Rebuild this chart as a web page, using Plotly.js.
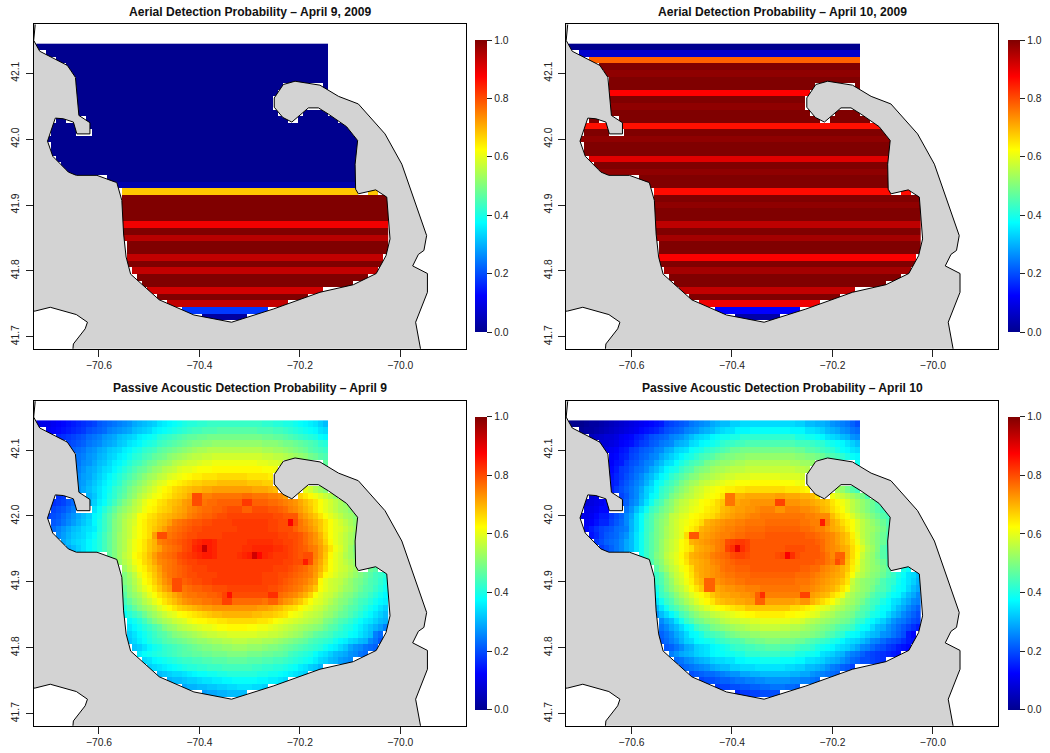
<!DOCTYPE html>
<html><head><meta charset="utf-8">
<script src="https://cdn.plot.ly/plotly-3.0.1.min.js"></script>
<style>html,body{margin:0;padding:0;background:#fff}</style></head>
<body><div id="chart" style="width:1050px;height:753px"></div>
<script>
const panelTitles = ["Aerial Detection Probability \u2013 April 9, 2009","Aerial Detection Probability \u2013 April 10, 2009","Passive Acoustic Detection Probability \u2013 April 9","Passive Acoustic Detection Probability \u2013 April 10"];
const xTicks = [-70.6,-70.4,-70.2,-70.0];
const yTicks = [41.7,41.8,41.9,42.0,42.1];
const barTicks = [0,0.2,0.4,0.6,0.8,1];
const gridLon = [-70.72,-70.71,-70.70,-70.69,-70.68,-70.67,-70.66,-70.65,-70.64,-70.63,-70.62,-70.61,-70.60,-70.59,-70.58,-70.57,-70.56,-70.55,-70.54,-70.53,-70.52,-70.51,-70.50,-70.49,-70.48,-70.47,-70.46,-70.45,-70.44,-70.43,-70.42,-70.41,-70.40,-70.39,-70.38,-70.37,-70.36,-70.35,-70.34,-70.33,-70.32,-70.31,-70.30,-70.29,-70.28,-70.27,-70.26,-70.25,-70.24,-70.23,-70.22,-70.21,-70.20,-70.19,-70.18,-70.17,-70.16,-70.15,-70.14,-70.13,-70.12,-70.11,-70.10,-70.09,-70.08,-70.07,-70.06,-70.05,-70.04,-70.03];
const gridLat = [42.14,42.13,42.12,42.11,42.10,42.09,42.08,42.07,42.06,42.05,42.04,42.03,42.02,42.01,42.00,41.99,41.98,41.97,41.96,41.95,41.94,41.93,41.92,41.91,41.90,41.89,41.88,41.87,41.86,41.85,41.84,41.83,41.82,41.81,41.80,41.79,41.78,41.77,41.76,41.75,41.74,41.73,41.72];
const rowStart = [0,1,4,5,7,7,7,7,7,8,8,2,2,1,1,1,2,3,4,6,14,15,16,16,16,16,16,16,16,16,17,17,17,18,18,20,21,22,24,26,29,33,36];
const aerialApr9 = [0,0,0,0,0,0,0,0,0,0,0,0,0,0,0,0,0,0,0,0,0,0.03,0.68,1,1,1,1,0.89,1,0.945,1,1,0.935,1,0.935,1,1,0.92,1,0.935,0.18,0.02,0];
const aerialApr10 = [0,0.07,0.78,1,0.985,1,1,0.875,1,0.985,1,1,0.86,1,0.985,1,1,0.905,1,0.985,1,1,0.865,1,0.985,1,1,0.94,1,0.965,1,1,0.88,1,0.965,1,1,0.935,1,0.89,0.125,0.03,0];
const acousticApr9 = [
[9,10,10,11,12,13,14,15,16,17,18,19,21,22,23,24,25,26,27,29,30,31,32,33,35,36,37,38,39,40,41,41,42,42,43,43,43,43,43,43,43,43,43,43,43,42,42,41,41,40,40,39,38,37,36,35,33,31],
[11,11,12,13,14,15,16,17,18,20,21,22,23,25,26,27,28,29,31,32,33,34,36,37,38,39,40,41,42,43,44,44,45,45,45,46,46,46,46,46,46,46,46,45,45,45,44,44,43,42,41,40,39,38,37,35,34],
[16,17,18,19,20,21,23,24,25,27,28,29,31,32,33,34,36,37,38,39,41,42,43,44,45,46,47,47,48,48,49,49,49,49,49,49,49,49,49,49,49,48,48,47,47,46,45,44,43,42,41,40,38,37],
[18,19,20,21,22,24,25,26,28,29,30,32,33,35,36,37,39,40,41,43,44,45,46,47,48,49,50,50,51,51,52,52,52,52,52,52,52,52,52,52,51,51,51,50,49,49,48,47,46,45,44,42,41],
[22,23,24,26,27,29,30,32,33,34,36,37,39,40,42,43,44,46,47,48,49,50,51,52,53,54,54,55,55,55,55,55,55,55,55,55,55,55,54,54,53,53,52,51,50,49,48,46,45,44,43],
[22,24,25,27,28,30,31,33,34,36,37,39,41,42,44,45,47,48,49,51,52,53,54,55,56,56,57,57,58,58,58,58,58,58,58,58,58,58,57,57,56,56,55,54,53,52,51,49,48,46,45],
[23,24,26,27,29,31,32,34,36,37,39,41,43,44,46,48,49,51,52,53,55,56,57,58,58,59,60,60,61,61,61,61,61,61,61,61,61,60,60,59,59,58,57,56,55,54,53,51,50,48,47],
[24,25,27,29,30,32,34,35,37,39,41,43,45,47,48,50,52,53,55,56,57,59,60,60,61,62,62,62,63,63,63,63,63,63,63,63,63,63,62,62,61,60,59,58,57,56,54,53,51,49,48],
[24,26,28,29,31,33,35,37,39,41,43,45,47,49,51,53,54,56,57,59,60,61,62,63,64,64,65,65,65,66,66,66,66,66,66,65,65,65,65,64,64,63,62,61,60,58,57,55,53,51,49],
[27,28,30,32,34,36,38,40,42,45,47,49,51,53,55,57,59,60,62,63,64,65,66,67,67,68,68,68,69,69,69,69,69,69,68,68,68,67,67,66,65,64,63,61,60,58,56,54,52,50],
[27,29,31,33,35,37,39,42,44,46,49,51,53,55,57,59,61,63,64,66,67,68,69,70,70,71,71,72,72,72,72,72,72,72,72,71,71,71,70,69,68,67,66,64,62,60,58,55,53,51],
[15,16,17,18,20,22,25,27,30,32,35,37,40,42,45,47,50,52,55,57,59,61,62,64,65,67,68,69,71,80,80,75,75,76,76,76,76,76,76,77,77,76,76,76,75,75,74,72,70,69,67,65,63,61,59,57,55,52,50],
[16,17,18,19,21,23,25,28,31,33,36,38,41,44,47,50,52,55,57,60,62,63,65,66,68,69,70,72,73,80,80,76,77,77,78,78,78,78,78,82,82,78,78,78,77,77,76,75,74,73,71,69,67,65,62,60,58,56,54,52],
[17,18,19,20,21,23,25,27,30,32,35,38,41,44,47,50,52,54,56,58,61,63,64,66,67,68,70,71,72,74,75,76,77,77,78,78,79,80,80,80,78,78,80,80,80,79,79,78,77,75,74,72,70,68,65,62,60,58,56,54,53,51,50],
[18,19,20,21,23,25,27,29,31,33,37,39,43,46,49,52,54,56,58,62,63,65,66,68,69,70,71,72,73,75,76,77,78,78,79,80,80,81,81,81,81,81,81,81,81,81,80,80,79,79,79,74,72,70,68,65,62,60,58,56,54,53,51],
[19,20,21,22,24,26,28,30,32,34,37,40,43,46,50,52,55,57,59,62,64,66,67,69,70,72,75,76,77,78,79,79,80,80,81,81,81,81,82,82,82,82,82,82,82,81,81,80,80,88,80,76,74,72,70,68,65,62,60,58,56,54,52],
[22,23,25,27,29,31,32,34,35,36,40,43,46,50,52,55,57,60,62,64,66,68,70,72,75,76,77,78,79,80,80,81,81,81,81,81,81,81,82,82,82,82,82,82,81,81,80,80,80,78,76,75,73,71,68,65,62,60,59,57,55,53],
[24,26,28,30,32,33,34,36,38,41,44,47,50,53,55,57,60,62,64,66,72,80,80,76,77,78,79,80,80,81,81,81,81,81,82,82,82,82,82,82,82,82,82,82,82,81,81,80,80,79,77,75,73,70,66,62,60,58,56,54,52],
[27,29,31,33,34,35,37,39,41,44,47,50,53,55,58,61,63,65,68,70,75,76,77,78,79,80,81,83,84,85,85,84,82,82,82,82,82,82,83,83,83,83,83,82,82,81,81,80,79,77,75,73,71,67,63,60,58,56,54,52],
[29,31,33,35,37,39,41,44,47,50,53,55,58,61,63,65,68,70,72,75,76,77,78,80,81,84,85,93,85,84,82,82,82,82,82,83,83,84,84,84,84,83,83,82,81,80,79,78,76,75,72,69,65,61,59,56,53,50],
[47,50,53,56,58,62,64,66,69,72,75,76,77,78,80,81,82,83,84,85,85,84,82,82,82,82,83,84,85,92,87,84,83,82,82,82,81,80,79,80,80,75,72,68,63,60,58,55,53,51],
[49,52,55,57,61,63,66,68,71,74,75,76,77,79,80,81,81,82,82,82,82,82,82,82,82,82,82,82,82,82,82,82,82,82,81,81,80,80,85,80,74,71,67,62,60,58,56,54,52],
[50,53,56,59,62,64,67,69,72,75,76,77,78,79,80,81,81,81,82,82,82,82,82,82,82,82,82,82,82,82,82,81,81,81,80,79,78,77,75,73,70,66,62,60,58,57,55,53,51,50,48,46],
[47,50,53,56,60,63,65,68,71,74,76,77,78,79,80,80,81,81,81,81,82,82,82,82,82,82,82,82,82,81,81,81,80,80,79,78,77,76,75,72,68,63,61,59,57,56,54,52,50,48,46,44,43,41],
[47,50,52,55,58,62,64,67,70,73,75,80,80,78,79,80,80,81,81,82,82,82,82,82,82,82,82,82,82,81,81,81,80,79,78,77,76,75,73,71,63,60,58,57,56,54,52,50,49,47,45,44,42,40],
[45,48,51,54,57,60,62,65,68,71,73,80,80,76,77,78,78,79,79,80,80,80,81,81,81,81,81,81,81,81,80,80,79,78,77,76,75,73,71,68,62,60,58,57,55,53,52,50,48,46,45,43,41,39],
[43,46,50,52,54,57,60,62,65,67,69,71,73,75,76,76,77,77,78,78,79,81,86,80,80,80,80,80,80,80,83,83,77,76,75,74,72,70,67,62,60,58,57,55,53,51,50,48,46,45,43,41,39,37],
[41,44,47,50,52,55,57,60,62,65,67,69,71,73,74,75,75,76,76,77,77,81,81,77,77,77,77,77,77,76,78,78,75,73,72,70,68,65,62,60,59,57,55,53,51,50,48,46,44,43,41,39,37,36],
[39,41,44,47,50,52,54,56,59,61,63,65,67,68,69,70,71,72,72,73,73,73,73,73,73,73,73,73,72,72,71,70,69,67,66,65,63,61,60,58,57,55,53,52,50,48,46,45,43,41,39,37,35,33],
[36,38,41,43,45,48,51,53,55,57,59,60,62,63,64,65,66,67,68,69,69,70,70,70,70,70,70,69,69,68,68,67,66,65,62,61,60,58,57,56,55,53,52,50,48,47,45,43,41,39,37,35,33,31],
[35,37,39,41,44,47,50,52,54,55,57,58,59,61,62,63,63,64,64,65,65,66,66,66,66,66,66,65,65,64,62,61,60,59,58,57,56,55,54,53,50,49,47,45,44,42,40,38,36,35,33,31,30],
[33,35,37,39,41,43,45,47,50,52,53,55,56,57,58,59,60,60,61,62,62,63,63,63,63,62,62,61,61,60,59,58,57,56,55,54,53,52,51,50,48,46,45,43,41,40,38,36,34,32,30,28,25],
[31,33,35,37,39,41,43,45,46,48,50,51,52,53,54,55,56,57,57,58,58,59,59,59,59,59,59,58,58,57,57,56,55,54,53,52,50,49,47,46,45,44,42,41,40,38,37,35,33,31,25,23],
[32,34,36,38,40,42,43,45,46,47,48,49,50,51,52,52,53,54,54,55,55,56,56,56,55,55,55,54,54,53,52,51,50,49,48,47,45,44,43,42,41,39,37,36,34,33,31,30,26,24,21],
[30,32,33,35,37,39,40,42,43,44,45,46,47,48,49,50,50,51,51,52,52,53,53,53,52,52,52,51,50,50,49,48,47,46,45,44,43,42,41,39,37,36,34,32,29,27,26,24,23,22],
[36,38,39,40,41,42,43,44,45,46,46,47,47,48,48,49,49,49,50,50,50,50,49,49,49,48,48,47,47,46,44,43,42,41,40,38,36,35,33,31,30,29,27,26,24,23],
[34,35,37,38,39,40,41,42,43,43,44,44,45,45,46,46,46,47,47,47,47,46,46,46,45,45,44,44,43,42,41,40,39,38,36,34,33,31,30,28,27,26],
[33,34,35,36,37,38,39,40,41,41,42,42,43,43,43,44,44,44,44,44,44,43,43,42,42,41,41,40,39,38,36,35,33,32,30],
[31,32,33,34,34,35,36,37,38,38,39,39,40,40,41,41,41,41,41,41,40,40,39,39,38,37,36,35,34,33],
[30,31,31,32,33,33,34,35,35,36,36,37,37,38,38,38,38,38,37,37,36,36,35,34],
[29,30,30,31,31,32,32,33,33,34,34,35,35,35,34,34,33],
[28,29,29,30,30,31,31,31,31],
[27,28,28]];
const acousticApr10 = [
[0,0,0,1,2,2,3,4,5,6,7,8,9,10,11,12,13,14,15,18,19,20,21,22,24,25,26,27,29,30,31,31,33,33,34,34,34,34,34,34,34,34,34,34,34,33,33,31,31,30,30,29,27,26,25,24,22,20],
[1,1,2,2,3,4,5,6,7,8,9,10,11,13,14,15,16,18,20,21,22,23,25,26,27,29,30,31,33,34,35,35,37,37,37,38,38,38,38,38,38,38,38,37,37,37,35,35,34,33,31,30,29,27,26,24,23],
[5,6,7,8,8,9,11,12,13,15,16,18,20,21,22,23,25,26,27,29,31,33,34,35,37,38,39,39,40,40,42,42,42,42,42,42,42,42,42,42,42,40,40,39,39,38,37,35,34,33,31,30,27,26],
[7,8,8,9,10,12,13,14,16,18,19,21,22,24,25,26,29,30,31,34,35,37,38,39,40,42,43,43,44,44,45,45,45,45,45,45,45,45,45,45,44,44,44,43,42,42,40,39,38,37,35,33,31],
[10,11,12,14,15,18,19,21,22,23,25,26,29,30,33,34,35,38,39,40,42,43,44,45,46,48,48,49,49,49,49,49,49,49,49,49,49,49,48,48,46,46,45,44,43,42,40,38,37,35,34],
[10,12,13,15,16,19,20,22,23,25,26,29,31,33,35,37,39,40,42,44,45,46,48,49,50,50,51,51,52,52,52,52,52,52,52,52,52,52,51,51,50,50,49,48,46,45,44,42,40,38,37],
[11,12,14,15,18,20,21,23,25,26,29,31,34,35,38,40,42,44,45,46,49,50,51,52,52,53,54,54,55,55,55,55,55,55,55,55,55,54,54,53,53,52,51,50,49,48,46,44,43,40,39],
[12,13,15,18,19,21,23,24,26,29,31,34,37,39,40,43,45,46,49,50,51,53,54,54,55,56,56,56,57,57,57,57,57,57,57,57,57,57,56,56,55,54,53,52,51,50,48,46,44,42,40],
[12,14,16,18,20,22,24,26,29,31,34,37,39,42,44,46,48,50,51,53,54,55,56,57,58,58,59,59,59,60,60,60,60,60,60,59,59,59,59,58,58,57,56,55,54,52,51,49,46,44,42],
[15,16,19,21,23,25,27,30,33,37,39,42,44,46,49,51,53,54,56,57,58,59,60,61,61,62,62,62,63,63,63,63,63,63,62,62,62,61,61,60,59,58,57,55,54,52,50,48,45,43],
[15,18,20,22,24,26,29,33,35,38,42,44,46,49,51,53,55,57,58,60,61,62,63,64,64,65,65,66,66,66,66,66,66,66,66,65,65,65,64,63,62,61,60,58,56,54,52,49,46,44],
[6,7,8,9,10,12,13,15,19,21,24,26,30,33,37,39,43,45,49,51,53,55,56,58,59,61,62,63,65,76,76,70,70,71,71,71,71,71,71,72,72,71,71,71,70,70,69,66,64,63,61,59,57,55,53,51,49,45,43],
[7,8,9,10,11,13,13,16,20,22,25,27,31,35,39,43,45,49,51,54,56,57,59,60,62,63,64,66,68,76,76,71,72,72,73,73,73,73,73,81,81,73,73,73,72,72,71,70,69,68,65,63,61,59,56,54,52,50,48,45],
[8,9,10,10,11,13,13,15,19,21,24,27,31,35,39,43,45,48,50,52,55,57,58,60,61,62,64,65,66,69,70,71,72,72,73,73,74,75,75,75,73,73,75,75,75,74,74,73,72,70,69,66,64,62,59,56,54,52,50,48,46,44,43],
[9,10,10,11,13,15,15,18,20,22,26,29,34,38,42,45,48,50,52,56,57,59,60,62,63,64,65,66,68,70,71,72,73,73,74,75,75,76,76,76,76,76,76,76,76,76,75,75,74,74,74,69,66,64,62,59,56,54,52,50,48,46,44],
[10,10,11,12,14,16,16,19,21,23,26,30,34,38,43,45,49,51,53,56,58,60,61,63,64,66,70,71,72,73,74,74,75,75,76,76,76,76,77,77,77,77,77,77,77,76,76,75,75,85,75,71,69,66,64,62,59,56,54,52,50,48,45],
[12,13,15,17,19,20,21,23,24,25,30,34,38,43,45,49,51,54,56,58,60,62,64,66,70,71,72,73,74,75,75,76,76,77,77,77,77,78,78,78,78,78,78,78,77,77,76,75,75,73,71,70,68,65,62,59,56,54,53,51,49,46],
[12,14,16,19,21,22,23,25,27,31,35,39,43,46,49,51,54,56,58,60,66,79,79,71,72,73,74,75,75,76,77,77,78,78,78,78,79,79,79,79,79,79,79,79,78,78,77,76,75,74,72,70,68,64,60,56,54,52,50,48,45],
[15,18,20,22,23,24,26,29,31,35,39,43,46,49,52,55,57,59,62,64,70,71,72,73,74,75,76,80,81,82,82,81,79,79,79,79,79,79,79,79,79,79,79,79,79,78,77,75,74,72,70,68,65,61,57,54,52,50,48,45],
[18,20,22,24,26,29,31,35,39,43,46,49,52,55,57,59,62,64,66,70,71,72,73,75,76,81,83,90,83,81,79,79,79,79,79,79,79,80,80,80,80,79,79,79,77,75,74,73,71,70,66,63,59,55,53,50,46,43],
[39,43,46,50,52,56,58,60,63,66,70,71,72,73,75,76,77,78,80,81,81,80,79,79,79,79,79,80,81,88,83,80,79,79,79,79,78,76,74,78,78,70,66,62,57,54,52,49,46,44],
[42,45,49,51,55,57,60,62,65,69,70,71,72,74,75,76,77,78,79,79,79,79,79,79,79,79,79,79,79,79,79,79,79,79,78,78,76,75,80,77,69,65,61,56,54,52,50,48,45],
[43,46,50,53,56,58,61,63,66,70,71,72,73,74,76,77,77,78,78,78,79,79,79,79,79,79,79,79,79,79,78,78,77,77,75,74,73,72,70,68,64,60,56,54,52,51,49,46,44,43,40,38],
[39,43,46,50,54,57,59,62,65,69,71,72,73,74,75,76,76,77,77,77,78,78,78,78,78,78,78,78,78,77,77,77,76,75,74,73,72,71,70,66,62,57,55,53,51,50,48,45,43,40,38,35,34,31],
[39,43,45,49,52,56,58,61,64,68,70,78,78,73,74,75,75,76,76,77,77,77,77,77,77,77,77,77,77,76,76,76,75,74,73,72,71,70,68,65,57,54,52,51,50,48,45,43,42,39,37,35,33,30],
[37,40,44,48,51,54,56,59,62,65,68,78,78,71,72,73,73,74,74,75,75,75,76,76,76,76,76,76,76,76,75,75,74,73,72,71,70,68,65,62,56,54,52,51,49,46,45,43,40,38,37,34,31,29],
[34,38,43,45,48,51,54,56,59,61,63,65,68,70,71,71,72,72,73,73,74,78,83,75,75,75,75,75,75,75,81,81,72,71,70,69,66,64,61,56,54,52,51,49,46,44,43,40,38,37,34,31,29,26],
[31,35,39,43,45,49,51,54,56,59,61,63,65,68,69,70,70,71,71,72,72,78,78,72,72,72,72,72,72,71,73,73,70,68,66,64,62,59,56,54,53,51,49,46,44,43,40,38,35,34,31,29,26,25],
[29,31,35,39,43,45,48,50,53,55,57,59,61,62,63,64,65,66,66,68,68,68,68,68,68,68,68,68,66,66,65,64,63,61,60,59,57,55,54,52,51,49,46,45,43,40,38,37,34,31,29,26,24,22],
[25,27,31,34,37,40,44,46,49,51,53,54,56,57,58,59,60,61,62,63,63,64,64,64,64,64,64,63,63,62,62,61,60,59,56,55,54,52,51,50,49,46,45,43,40,39,37,34,31,29,26,24,22,20],
[24,26,29,31,35,39,43,45,48,49,51,52,53,55,56,57,57,58,58,59,59,60,60,60,60,60,60,59,59,58,56,55,54,53,52,51,50,49,48,46,43,42,39,37,35,33,30,27,25,24,22,20,19],
[22,24,26,29,31,34,37,39,43,45,46,49,50,51,52,53,54,54,55,56,56,57,57,57,57,56,56,55,55,54,53,52,51,50,49,48,46,45,44,43,40,38,37,34,31,30,27,25,23,21,19,17,15],
[20,22,24,26,29,31,34,37,38,40,43,44,45,46,48,49,50,51,51,52,52,53,53,53,53,53,53,52,52,51,51,50,49,48,46,45,43,42,39,38,37,35,33,31,30,27,26,24,22,20,15,13],
[21,23,25,27,30,33,34,37,38,39,40,42,43,44,45,45,46,48,48,49,49,50,50,50,49,49,49,48,48,46,45,44,43,42,40,39,37,35,34,33,31,29,26,25,23,21,20,19,17,15,14],
[19,21,22,24,26,29,30,33,34,35,37,38,39,40,42,43,43,44,44,45,45,46,46,46,45,45,45,44,43,43,42,40,39,38,37,35,34,33,31,29,26,25,23,21,20,18,17,15,14,13],
[25,27,29,30,31,33,34,35,37,38,38,39,39,40,40,42,42,42,43,43,43,43,42,42,42,40,40,39,39,38,35,34,33,31,30,27,25,24,22,20,19,18,17,16,15,14],
[23,24,26,27,29,30,31,33,34,34,35,35,37,37,38,38,38,39,39,39,39,38,38,38,37,37,35,35,34,33,31,30,29,27,25,23,22,20,20,19,18,17],
[22,23,24,25,26,27,29,30,31,31,33,33,34,34,34,35,35,35,35,35,35,34,34,33,33,31,31,30,29,27,25,24,22,21,19],
[20,21,22,23,23,24,25,26,27,27,29,29,30,30,31,31,31,31,31,31,30,30,29,29,27,26,25,24,23,22],
[19,20,20,21,22,22,23,24,24,25,25,26,26,27,27,27,27,27,26,26,25,25,24,23],
[18,19,19,20,20,21,21,22,22,23,23,24,24,24,23,23,22],
[16,18,18,19,19,20,20,20,20],
[15,16,16]];
const coastLon = [-70.727,-70.730,-70.718,-70.6905,-70.663,-70.647,-70.640,-70.618,-70.618,-70.644,-70.651,-70.671,-70.687,-70.7025,-70.692,-70.661,-70.645,-70.604,-70.5645,-70.5545,-70.551,-70.546,-70.537,-70.480,-70.411,-70.336,-70.253,-70.160,-70.0935,-70.048,-70.0285,-70.0205,-70.027,-70.049,-70.0835,-70.089,-70.090,-70.085,-70.107,-70.143,-70.163,-70.183,-70.216,-70.234,-70.251,-70.251,-70.233,-70.2096,-70.160,-70.123,-70.0836,-70.0305,-69.997,-69.9476,-69.953,-69.964,-69.9754,-69.946,-69.946,-69.9695,-69.9595,-69.958,-70.652,-70.652,-70.651,-70.6275,-70.623,-70.645,-70.697,-70.727,-70.780,-70.780,-70.727];
const coastLat = [42.174,42.150,42.1335,42.123,42.112,42.094,42.036,42.025,42.008,42.008,42.026,42.031,42.032,41.997,41.974,41.950,41.945,41.945,41.934,41.907,41.856,41.821,41.795,41.756,41.733,41.722,41.742,41.7675,41.779,41.796,41.823,41.8485,41.912,41.923,41.917,41.924,41.962,41.998,42.019,42.038,42.0475,42.0475,42.026,42.033,42.0485,42.0626,42.083,42.088,42.082,42.065,42.0535,42.008,41.962,41.8536,41.831,41.825,41.8075,41.796,41.7675,41.722,41.6805,41.660,41.660,41.6805,41.689,41.712,41.722,41.7336,41.7447,41.739,41.735,42.190,42.190];
const keepRow = [12];
const keepCol = [10];

const timColors = [[0,'#00008F'],[0.125,'#0000FF'],[0.375,'#00FFFF'],[0.625,'#FFFF00'],[0.875,'#FF0000'],[1,'#800000']];
const textFont = {family:'"Liberation Sans",Arial,sans-serif',size:10.3,color:'#222'};

function onLand(lon,lat){
  let inside=false;
  for(let a=0,b=coastLon.length-1;a<coastLon.length;b=a++){
    if((coastLat[a]>lat)!==(coastLat[b]>lat) &&
       lon<(coastLon[b]-coastLon[a])*(lat-coastLat[a])/(coastLat[b]-coastLat[a])+coastLon[a]) inside=!inside;
  }
  return inside;
}
function kept(j,i){ return keepRow.some((r,n)=>r===j&&keepCol[n]===i); }
function gridFrom(cellValue){
  return gridLat.map((lat,j)=>gridLon.map((lon,i)=>{
    const k=i-rowStart[j];
    if(k<0||k>=acousticApr9[j].length||(onLand(lon,lat)&&!kept(j,i))) return null;
    return cellValue(j,k);
  }));
}
const zGrids = [
  gridFrom((j,k)=>aerialApr9[j]),
  gridFrom((j,k)=>aerialApr10[j]),
  gridFrom((j,k)=>acousticApr9[j][k]/100),
  gridFrom((j,k)=>acousticApr10[j][k]/100)
];
const W=1050,H=753;
const boxes=[[33.5,465.7,24,348.7],[566,998.3,24,348.7],[33.5,465.7,400.7,725.7],[566,998.3,400.7,725.7]];
const bars=[[475,40,292.3],[1007.7,40,292.3],[475,416.7,292.6],[1007.7,416.7,292.6]];
const data=[],layout={width:W,height:H,margin:{l:0,r:0,t:0,b:0,autoexpand:false},paper_bgcolor:'#fff',plot_bgcolor:'#fff',showlegend:false,annotations:[],font:textFont};
boxes.forEach((b,p)=>{
  const sfx=p?String(p+1):'';
  data.push({type:'heatmap',x:gridLon,y:gridLat,z:zGrids[p],xaxis:'x'+sfx,yaxis:'y'+sfx,zmin:0,zmax:1,colorscale:timColors,hoverongaps:false,
    colorbar:{x:bars[p][0]/W,xanchor:'left',y:1-bars[p][1]/H,yanchor:'top',len:bars[p][2]/H,lenmode:'fraction',thickness:11.7,thicknessmode:'pixels',xpad:0,ypad:0,outlinewidth:0,
      tickmode:'array',tickvals:barTicks,ticks:'outside',ticklen:5.7,tickcolor:'#222',tickwidth:1,tickformat:'.1f',tickprefix:'\u00a0',tickfont:textFont}});
  data.push({type:'scatter',mode:'lines',x:coastLon,y:coastLat,xaxis:'x'+sfx,yaxis:'y'+sfx,fill:'toself',fillcolor:'#D3D3D3',line:{color:'#000',width:1},hoverinfo:'skip'});
  const common={showgrid:false,zeroline:false,showline:true,mirror:true,linecolor:'#000',linewidth:1,ticks:'outside',ticklen:7,tickwidth:1,tickcolor:'#222',tickfont:textFont,tickformat:'.1f',tickmode:'array'};
  layout['xaxis'+sfx]=Object.assign({},common,{domain:[b[0]/W,b[1]/W],range:[-70.7304,-69.8698],tickvals:xTicks,anchor:'y'+sfx});
  layout['yaxis'+sfx]=Object.assign({},common,{domain:[1-b[3]/H,1-b[2]/H],range:[41.6818,42.1749],tickvals:yTicks,tickangle:-90,ticklabelstandoff:2,anchor:'x'+sfx});
  layout.annotations.push({xref:'paper',yref:'paper',x:(b[0]+b[1])/2/W,y:1-(b[2]-12.4)/H,xanchor:'center',yanchor:'middle',showarrow:false,text:'<b>'+panelTitles[p]+'</b>',font:{family:textFont.family,size:12.1,color:'#111'}});
});
Plotly.newPlot('chart',data,layout,{displayModeBar:false,responsive:false});
</script></body></html>
